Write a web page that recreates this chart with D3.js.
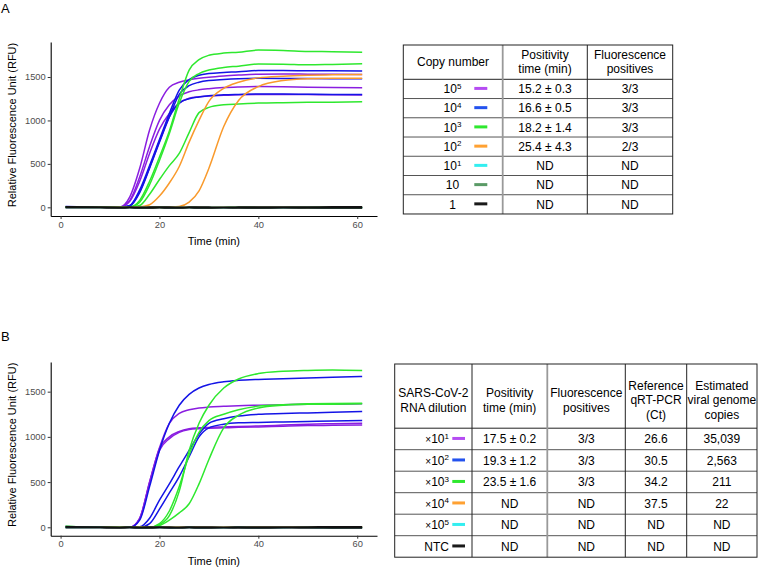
<!DOCTYPE html>
<html lang="en">
<head>
<meta charset="utf-8">
<title>Amplification curves</title>
<script src="https://d3js.org/d3.v7.min.js"></script>
<style>
  body { margin: 0; background: white; }
  svg text { font-family: "Liberation Sans", Arial, Helvetica, sans-serif; }
</style>
</head>
<body>
<svg id="fig" width="760" height="567"></svg>
<script>
// shared sampling times (min)
const time = [1, 8, 12, 14, 16, 18, 20, 22, 24, 26, 28, 30, 33, 36, 40, 45, 50, 55, 61];

// ---- panel A curves (RFU)
const purpleA = [
  [5, 2, 5, 120, 449, 890, 1198, 1382, 1440, 1467, 1485, 1498, 1512, 1522, 1532, 1535, 1533, 1531, 1530],
  [3, 0, 3, 80, 350, 700, 1000, 1180, 1280, 1330, 1352, 1365, 1378, 1385, 1390, 1388, 1382, 1378, 1375],
  [4, 1, 3, 70, 300, 620, 900, 1080, 1200, 1255, 1272, 1280, 1290, 1297, 1300, 1300, 1298, 1296, 1294]
];
const blueA = [
  [8, 2, 0, 20, 200, 480, 780, 1080, 1350, 1470, 1520, 1540, 1552, 1560, 1575, 1575, 1572, 1571, 1570],
  [5, 0, 0, 15, 170, 450, 750, 1040, 1300, 1400, 1440, 1460, 1472, 1480, 1485, 1484, 1482, 1481, 1480],
  [6, 1, 0, 18, 180, 460, 760, 1040, 1200, 1250, 1270, 1285, 1295, 1300, 1305, 1304, 1302, 1300, 1300]
];
const greenA = [
  [2, 0, 0, 5, 80, 300, 580, 880, 1250, 1580, 1700, 1750, 1775, 1785, 1810, 1805, 1795, 1792, 1785],
  [1, 0, 0, 3, 60, 260, 540, 850, 1200, 1450, 1540, 1580, 1610, 1625, 1650, 1648, 1640, 1645, 1652],
  [0, 0, 0, 0, 20, 150, 320, 480, 620, 860, 1090, 1150, 1180, 1190, 1200, 1205, 1208, 1210, 1215]
];
const orangeA = [
  [0, 0, 0, 0, 5, 30, 130, 280, 470, 750, 1000, 1220, 1370, 1440, 1490, 1510, 1520, 1525, 1530],
  [0, 0, 0, 0, 0, 0, 0, 3, 10, 60, 190, 450, 930, 1230, 1390, 1460, 1480, 1485, 1486],
  [2, 0, -1, 0, 1, 0, -2, 0, 1, 2, 0, -1, 0, 2, 1, 0, -1, 0, 1]
];
const cyanA = [
  [-3, -4, -5, -4, -6, -5, -4, -6, -5, -4, -6, -5, -4, -5, -6, -4, -5, -6, -5],
  [0, -2, -3, -2, -4, -3, -2, -3, -4, -2, -3, -4, -3, -2, -4, -3, -2, -3, -4],
  [4, 1, 0, 1, -1, 0, 1, 0, -1, 1, 0, -1, 0, 1, 0, -1, 0, 1, 0]
];
const darkgreenA = [
  [-2, -5, -6, -5, -7, -6, -5, -7, -6, -5, -7, -6, -5, -6, -7, -5, -6, -7, -6],
  [1, -1, -2, -1, -3, -2, -1, -2, -3, -1, -2, -3, -2, -1, -3, -2, -1, -2, -3],
  [3, 2, 1, 2, 0, 1, 2, 1, 0, 2, 1, 0, 1, 2, 1, 0, 1, 2, 1]
];
const blackA = [
  [8, 4, 3, 4, 3, 4, 5, 4, 3, 4, 5, 4, 3, 4, 6, 5, 6, 7, 8],
  [-6, -8, -9, -8, -10, -9, -8, -10, -9, -8, -10, -9, -8, -9, -10, -8, -9, -10, -10],
  [2, -2, -3, -2, -4, -3, -2, -3, -4, -2, -3, -4, -3, -2, -4, -3, -2, -3, -4]
];

// ---- panel B curves (RFU)
const purpleB = [
  [10, 0, 0, 0, 100, 500, 880, 1150, 1260, 1300, 1320, 1330, 1338, 1345, 1350, 1355, 1360, 1362, 1365],
  [8, 0, 0, 0, 100, 500, 870, 1000, 1060, 1090, 1100, 1105, 1110, 1115, 1120, 1130, 1140, 1145, 1150],
  [6, 0, 0, 0, 90, 480, 850, 980, 1050, 1080, 1090, 1095, 1100, 1105, 1110, 1118, 1125, 1128, 1132]
];
const blueB = [
  [5, 0, 0, 0, 80, 450, 850, 1150, 1350, 1470, 1540, 1580, 1610, 1625, 1635, 1642, 1650, 1658, 1667],
  [3, 0, 0, 0, 5, 100, 300, 480, 670, 850, 1030, 1150, 1200, 1230, 1250, 1258, 1265, 1272, 1280],
  [4, 0, 0, 0, 0, 40, 200, 380, 560, 780, 1000, 1100, 1140, 1155, 1160, 1165, 1170, 1175, 1180]
];
const greenB = [
  [12, 0, 0, 0, 0, 0, 30, 130, 400, 850, 1150, 1350, 1540, 1640, 1700, 1725, 1735, 1740, 1733],
  [8, 0, 0, 0, 0, 0, 40, 180, 450, 800, 1050, 1180, 1250, 1300, 1340, 1355, 1365, 1370, 1372],
  [5, 0, 0, 0, 0, 0, 20, 80, 160, 260, 480, 750, 1100, 1240, 1320, 1350, 1360, 1362, 1365]
];
const orangeB = [
  [2, 0, -1, 0, 1, 0, -2, 0, 1, 2, 0, -1, 0, 2, 1, 0, -1, 0, 1],
  [0, -2, -3, -2, -1, -3, -2, -1, -3, -2, -1, -3, -2, -1, -3, -2, -1, -3, -2],
  [4, 2, 1, 2, 3, 1, 2, 3, 1, 2, 3, 1, 2, 3, 1, 2, 3, 1, 2]
];
const cyanB = [
  [-3, -4, -5, -4, -6, -5, -4, -6, -5, -4, -6, -5, -4, -5, -6, -4, -5, -6, -5],
  [0, -2, -3, -2, -4, -3, -2, -3, -4, -2, -3, -4, -3, -2, -4, -3, -2, -3, -4],
  [4, 1, 0, 1, -1, 0, 1, 0, -1, 1, 0, -1, 0, 1, 0, -1, 0, 1, 0]
];
const blackB = [
  [8, 4, 3, 4, 3, 4, 5, 4, 3, 4, 5, 4, 3, 4, 6, 5, 6, 7, 8],
  [-6, -8, -9, -8, -10, -9, -8, -10, -9, -8, -10, -9, -8, -9, -10, -8, -9, -10, -10],
  [2, -2, -3, -2, -4, -3, -2, -3, -4, -2, -3, -4, -3, -2, -4, -3, -2, -3, -4]
];

const xTicks = [0, 20, 40, 60];
const yTicks = [0, 500, 1000, 1500];

// ---- table contents
const copyBase = ["10", "10", "10", "10", "10", "10", "1"];
const copyExp = ["5", "4", "3", "2", "1", "", ""];
const positivityA = ["15.2 \u00b1 0.3", "16.6 \u00b1 0.5", "18.2 \u00b1 1.4", "25.4 \u00b1 4.3", "ND", "ND", "ND"];
const positivesA = ["3/3", "3/3", "3/3", "2/3", "ND", "ND", "ND"];

const dilutionExp = ["1", "2", "3", "4", "5", ""];
const positivityB = ["17.5 \u00b1 0.2", "19.3 \u00b1 1.2", "23.5 \u00b1 1.6", "ND", "ND", "ND"];
const positivesB = ["3/3", "3/3", "3/3", "ND", "ND", "ND"];
const ctB = ["26.6", "30.5", "34.2", "37.5", "ND", "ND"];
const copiesB = ["35,039", "2,563", "211", "22", "ND", "ND"];

const col = {
  purple: "#8a1ee0", blue: "#1414e6", green: "#2ee82e", orange: "#f99a2c",
  cyan: "#2ee6e6", darkgreen: "#4c9a5a", black: "#111111"
};
const swatch = {
  purple: "#b54cf2", blue: "#2352ee", green: "#2ee82e", orange: "#ffa132",
  cyan: "#33eef0", darkgreen: "#5a9a66", black: "#1a1a1a"
};

const svg = d3.select("#fig");

function drawPanel(top, bottom, yDomain, groups) {
  const x = d3.scaleLinear().domain([-2, 64]).range([50.7, 377]);
  const y = d3.scaleLinear().domain(yDomain).range([bottom, top]);
  const g = svg.append("g");

  const line = d3.line()
      .x((d, i) => x(time[i]))
      .y(d => y(d))
      .curve(d3.curveMonotoneX);

  groups.forEach(grp => {
    g.selectAll(null).data(grp.series)
      .join("path")
      .attr("fill", "none")
      .attr("stroke", grp.color)
      .attr("stroke-width", grp.flat ? 1.2 : 1.5)
      .attr("d", line);
  });

  const ax = g.append("g")
      .attr("transform", "translate(0," + bottom + ")")
      .call(d3.axisBottom(x).tickValues(xTicks).tickSize(3).tickSizeOuter(0).tickPadding(2));
  const ay = g.append("g")
      .attr("transform", "translate(50.7,0)")
      .call(d3.axisLeft(y).tickValues(yTicks).tickFormat(d3.format("d"))
            .tickSize(3).tickSizeOuter(0).tickPadding(2));

  [ax, ay].forEach(a => {
    a.select(".domain").attr("stroke", "#000").attr("stroke-width", 1.1);
    a.selectAll(".tick line").attr("stroke", "#333");
    a.selectAll(".tick text").attr("fill", "#4d4d4d").style("font-size", "9.3px")
      .style("font-family", "'Liberation Sans', Arial, sans-serif");
  });

  g.append("text")
    .attr("x", 213.9).attr("y", bottom + 29)
    .attr("text-anchor", "middle")
    .style("font-size", "11px")
    .text("Time (min)");
  g.append("text")
    .attr("transform", "translate(16," + ((top + bottom) / 2 - 4) + ") rotate(-90)")
    .attr("text-anchor", "middle")
    .style("font-size", "11px")
    .text("Relative Fluorescence Unit (RFU)");
}

drawPanel(42, 216, [-100, 1903], [
  { color: col.purple, series: purpleA },
  { color: col.blue, series: blueA },
  { color: col.green, series: greenA },
  { color: col.orange, series: orangeA },
  { color: col.cyan, series: cyanA, flat: true },
  { color: col.darkgreen, series: darkgreenA, flat: true },
  { color: col.black, series: blackA, flat: true }
]);

drawPanel(362, 535.7, [-93, 1828], [
  { color: col.purple, series: purpleB },
  { color: col.blue, series: blueB },
  { color: col.green, series: greenB },
  { color: col.orange, series: orangeB, flat: true },
  { color: col.cyan, series: cyanB, flat: true },
  { color: col.black, series: blackB, flat: true }
]);

svg.append("text").attr("x", 1).attr("y", 13).style("font-size", "13px").text("A");
svg.append("text").attr("x", 1).attr("y", 341).style("font-size", "13px").text("B");

// ---- tables
function drawTable(t) {
  const g = svg.append("g");
  const nRows = t.rows.length;
  const bottom = t.headBottom + nRows * t.rowH;
  const xs = t.cols;

  // row separators
  for (let i = 0; i < nRows; i++) {
    const yy = t.headBottom + i * t.rowH;
    g.append("line").attr("x1", xs[0]).attr("x2", xs[xs.length - 1])
      .attr("y1", yy).attr("y2", yy)
      .attr("stroke", i === 0 ? "#222" : "#555").attr("stroke-width", 1);
  }
  // column separators
  for (let j = 1; j < xs.length - 1; j++) {
    const grey = j === t.greyCol;
    g.append("line").attr("x1", xs[j]).attr("x2", xs[j])
      .attr("y1", t.top).attr("y2", bottom)
      .attr("stroke", grey ? "#999" : "#222").attr("stroke-width", grey ? 1.8 : 1);
  }
  g.append("rect").attr("x", xs[0]).attr("y", t.top)
    .attr("width", xs[xs.length - 1] - xs[0]).attr("height", bottom - t.top)
    .attr("fill", "none").attr("stroke", "#222").attr("stroke-width", 1);

  // header
  const hc = (t.top + t.headBottom) / 2 + t.headShift;
  t.header.forEach((lines, j) => {
    const cx = (xs[j] + xs[j + 1]) / 2;
    lines.forEach((s, k) => {
      g.append("text")
        .attr("x", cx)
        .attr("y", hc + (k - (lines.length - 1) / 2) * t.lineH + 4.3)
        .attr("text-anchor", "middle")
        .style("font-size", "12px")
        .text(s);
    });
  });

  // body
  t.rows.forEach((r, i) => {
    const cy = t.headBottom + (i + 0.5) * t.rowH;
    // label cell
    const lab = g.append("text")
      .attr("x", t.labelX).attr("y", cy + 4.3)
      .attr("text-anchor", t.labelAnchor)
      .style("font-size", "12px");
    if (r.pre) lab.append("tspan").style("font-size", "10px").text(r.pre);
    lab.append("tspan").text(r.base);
    if (r.exp) lab.append("tspan").attr("dy", -4.5).style("font-size", "8px").text(r.exp);
    g.append("line")
      .attr("x1", t.swatchX[0]).attr("x2", t.swatchX[1])
      .attr("y1", cy - 0.5).attr("y2", cy - 0.5)
      .attr("stroke", r.color).attr("stroke-width", 3);
    r.cells.forEach((s, j) => {
      g.append("text")
        .attr("x", (xs[j + 1] + xs[j + 2]) / 2)
        .attr("y", cy + 4.3)
        .attr("text-anchor", "middle")
        .style("font-size", "12px")
        .text(s);
    });
  });
}

const legendA = ["purple", "blue", "green", "orange", "cyan", "darkgreen", "black"];
drawTable({
  top: 45, headBottom: 79.3, rowH: 19.24, lineH: 14.7, headShift: -0.5,
  cols: [403.3, 502.7, 587.3, 672.7], greyCol: 1,
  labelX: 452.5, labelAnchor: "middle", swatchX: [474.3, 487.3],
  header: [["Copy number"], ["Positivity", "time (min)"], ["Fluorescence", "positives"]],
  rows: copyBase.map((b, i) => ({
    base: b, exp: copyExp[i], color: swatch[legendA[i]],
    cells: [positivityA[i], positivesA[i]]
  }))
});

const legendB = ["purple", "blue", "green", "orange", "cyan", "black"];
drawTable({
  top: 364, headBottom: 428.2, rowH: 21.5, lineH: 14.5, headShift: 4,
  cols: [394.7, 472, 547.3, 625.3, 686.7, 757], greyCol: 2,
  labelX: 449, labelAnchor: "end", swatchX: [452.3, 465],
  header: [["SARS-CoV-2", "RNA dilution"], ["Positivity", "time (min)"], ["Fluorescence", "positives"],
           ["Reference", "qRT-PCR", "(Ct)"], ["Estimated", "viral genome", "copies"]],
  rows: dilutionExp.map((e, i) => ({
    pre: e ? "\u00d7" : "", base: e ? "10" : "NTC", exp: e, color: swatch[legendB[i]],
    cells: [positivityB[i], positivesB[i], ctB[i], copiesB[i]]
  }))
});
</script>
</body>
</html>
